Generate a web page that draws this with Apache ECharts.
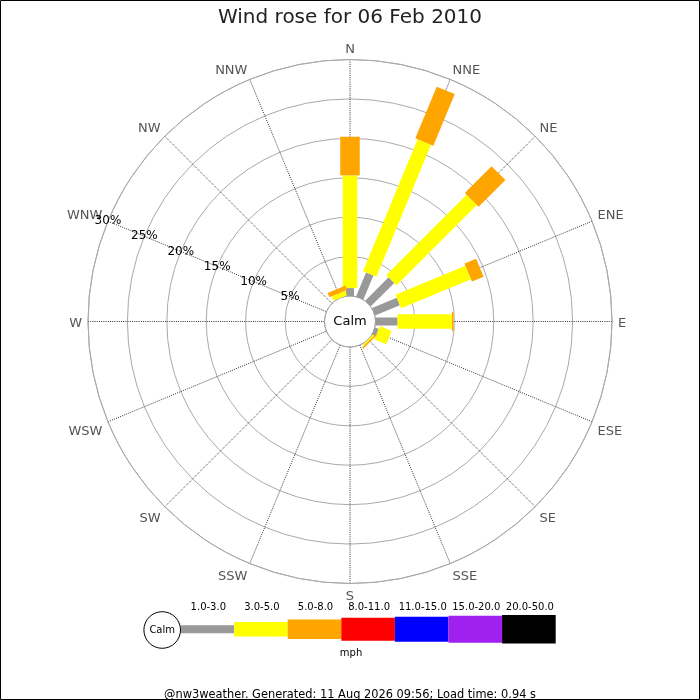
<!DOCTYPE html>
<html><head><meta charset="utf-8">
<script src="https://cdn.jsdelivr.net/npm/echarts@6/dist/echarts.min.js"></script>
<style>html,body{margin:0;padding:0;background:#fff}#c{width:700px;height:700px}</style>
</head><body><div id="c"></div>
<script>
// ---- data ----
const directions = ['N','NNE','NE','ENE','E','ESE','SE','SSE','S','SSW','SW','WSW','W','WNW','NW','NNW'];
const speedBands = ['1.0-3.0','3.0-5.0','5.0-8.0','8.0-11.0','11.0-15.0','15.0-20.0','20.0-50.0'];
//                 N    NNE  NE   ENE  E    ESE  SE   SSE S  SSW SW WSW W  WNW NW NNW
const pct_1_3   = [1.0, 3.3, 4.2, 3.4, 2.8, 0.5, 0,   0, 0, 0,  0, 0,  0, 0,  0, 0];
const pct_3_5   = [14.3,18.1,14.4,9.6, 6.9, 1.6, 0.2, 0, 0, 0,  0, 0,  0, 0,  0, 0.6];
const pct_5_8   = [4.9, 7.1, 4.8, 1.6, 0.2, 0,   0.2, 0, 0, 0,  0, 0,  0, 0,  0, 0.6];
const pct_8_11  = [0,0,0,0,0,0,0,0,0,0,0,0,0,0,0,0];
const pct_11_15 = [0,0,0,0,0,0,0,0,0,0,0,0,0,0,0,0];
const pct_15_20 = [0,0,0,0,0,0,0,0,0,0,0,0,0,0,0,0];
const pct_20_50 = [0,0,0,0,0,0,0,0,0,0,0,0,0,0,0,0];
const ringTicks = [5,10,15,20,25,30];
const titleText = 'Wind rose for 06 Feb 2010';
const footerText = '@nw3weather. Generated: 11 Aug 2026 09:56; Load time: 0.94 s';
const unitText = 'mph';
const calmText = 'Calm';

// ---- styles / layout ----
const bandValues = [pct_1_3, pct_3_5, pct_5_8, pct_8_11, pct_11_15, pct_15_20, pct_20_50];
const bandColors = ['#999999','#ffff00','#ffa500','#ff0000','#0000ff','#a020f0','#000000'];
const bandWidths = [8, 14.5, 19.5, 23, 25, 27, 28.5];
const FONT = 'DejaVu Sans';
const CX = 350, CY = 321.5, R0 = 25.5, R = 262;
const STEP = 360 / directions.length;

const barData = [];
directions.forEach((d, i) => {
  let cum = 0;
  bandValues.forEach((arr, b) => {
    const v = arr[i];
    if (v > 0) barData.push([cum, cum + v, i * STEP, b]);
    cum += v;
  });
});

// legend graphics
const LG_X = 180.5, LG_W = 53.6, LG_Y = 629.3, LG_CALM_R = 18.3;
const legendEls = [];
legendEls.push({type:'circle', shape:{cx: LG_X - LG_CALM_R, cy: LG_Y + 0.7, r: LG_CALM_R},
  style:{fill:'#fff', stroke:'#000', lineWidth:1}, z: 10});
legendEls.push({type:'text', x: LG_X - LG_CALM_R, y: LG_Y + 0.7,
  style:{text: calmText, fontFamily: FONT, fontSize: 10, fill:'#000', align:'center', verticalAlign:'middle'}, z: 11});
speedBands.forEach((lab, b) => {
  const x = LG_X + b * LG_W;
  legendEls.push({type:'rect', shape:{x: x, y: LG_Y - bandWidths[b]/2, width: LG_W, height: bandWidths[b]},
    style:{fill: bandColors[b]}, z: 5});
  legendEls.push({type:'text', x: x + LG_W/2 + 1, y: 607,
    style:{text: lab, fontFamily: FONT, fontSize: 10, fill:'#000', align:'center', verticalAlign:'middle'}});
});
legendEls.push({type:'text', x: CX + 1, y: 653,
  style:{text: unitText, fontFamily: FONT, fontSize: 10, fill:'#000', align:'center', verticalAlign:'middle'}});

const hiddenRadius = (idx) => ({polarIndex: idx, type:'value', min:0, max:ringTicks[ringTicks.length-1], interval:ringTicks[0],
  axisLine:{show:false}, axisTick:{show:false}, axisLabel:{show:false}, splitLine:{show:false}});

const chart = echarts.init(document.getElementById('c'), null, {renderer:'canvas'});
chart.setOption({
  backgroundColor: '#fff',
  animation: false,
  title: [
    {text: titleText, left: 'center', top: 3,
     textStyle:{fontFamily: FONT, fontSize: 20, fontWeight:'normal', color:'#222'}},
    {text: footerText, left: 'center', top: 685,
     textStyle:{fontFamily: FONT, fontSize: 11.4, fontWeight:'normal', color:'#000'}}
  ],
  polar: [
    {center:[CX, CY], radius:[R0, R]},
    {center:[CX, CY], radius:[R0, R]},
    {center:[CX, CY + 1.75], radius:[R0, R]}
  ],
  angleAxis: [
    {polarIndex:0, type:'value', min:0, max:360, interval:STEP, startAngle:90, clockwise:true,
     axisLine:{show:true, lineStyle:{color:'#aaa', width:1}},
     axisTick:{show:false}, axisLabel:{show:false},
     splitLine:{show:true, lineStyle:{color:'#333', width:1, type:[1,1.2]}}},
    {polarIndex:1, type:'value', min:0, max:360, startAngle:157.5, clockwise:true,
     axisLine:{show:false}, axisTick:{show:false}, axisLabel:{show:false}, splitLine:{show:false}},
    {polarIndex:2, type:'value', min:0, max:360, interval:STEP, startAngle:90, clockwise:true,
     axisLine:{show:false}, axisTick:{show:false}, splitLine:{show:false},
     axisLabel:{show:true, margin:6, fontFamily:FONT, fontSize:13, color:'#555', lineHeight:11,
       formatter: v => v >= 360 ? '' : directions[Math.round(v / STEP) % directions.length]}}
  ],
  radiusAxis: [
    {polarIndex:0, type:'value', min:0, max:ringTicks[ringTicks.length-1], interval:ringTicks[0],
     axisLine:{show:false}, axisTick:{show:false}, axisLabel:{show:false},
     splitLine:{show:true, lineStyle:{color:'#aaa', width:1}}},
    {polarIndex:1, type:'value', min:0, max:ringTicks[ringTicks.length-1], interval:ringTicks[0],
     axisLine:{show:false}, axisTick:{show:false}, splitLine:{show:false},
     axisLabel:{show:true, margin:0, rotate:0, align:'center', verticalAlign:'middle',
       fontFamily:FONT, fontSize:12, color:'#000', showMinLabel:false, lineHeight:10,
       formatter: v => v === 0 ? '' : v + '%'}, z: 20},
    hiddenRadius(2)
  ],
  series: [{
    type:'custom', coordinateSystem:'polar', polarIndex:0, clip:false,
    dimensions:['r0','r1','angle','band'],
    encode:{radius:[0,1], angle:2},
    data: barData,
    renderItem: function (params, api) {
      const a = api.value(0), b = api.value(1), ang = api.value(2), band = api.value(3);
      const cs = params.coordSys;
      const p0 = api.coord([a, ang]);
      const p1 = api.coord([b, ang]);
      let ux = p1[0] - cs.cx, uy = p1[1] - cs.cy;
      const len = Math.sqrt(ux*ux + uy*uy) || 1;
      ux /= len; uy /= len;
      const h = bandWidths[band] / 2;
      const nx = -uy * h, ny = ux * h;
      return {type:'polygon', shape:{points:[
        [p0[0]+nx, p0[1]+ny], [p1[0]+nx, p1[1]+ny], [p1[0]-nx, p1[1]-ny], [p0[0]-nx, p0[1]-ny]
      ]}, style:{fill: bandColors[band], stroke: null}};
    },
    z: 5
  }],
  graphic: [
    {type:'text', x: CX, y: CY, style:{text: calmText, fontFamily: FONT, fontSize: 13, fill:'#000', align:'center', verticalAlign:'middle'}, z: 30},
    {type:'group', children: legendEls},
    {type:'rect', shape:{x:0.5, y:0.5, width:699, height:699}, style:{fill:null, stroke:'#000', lineWidth:1}, z: 50}
  ]
});
</script></body></html>
